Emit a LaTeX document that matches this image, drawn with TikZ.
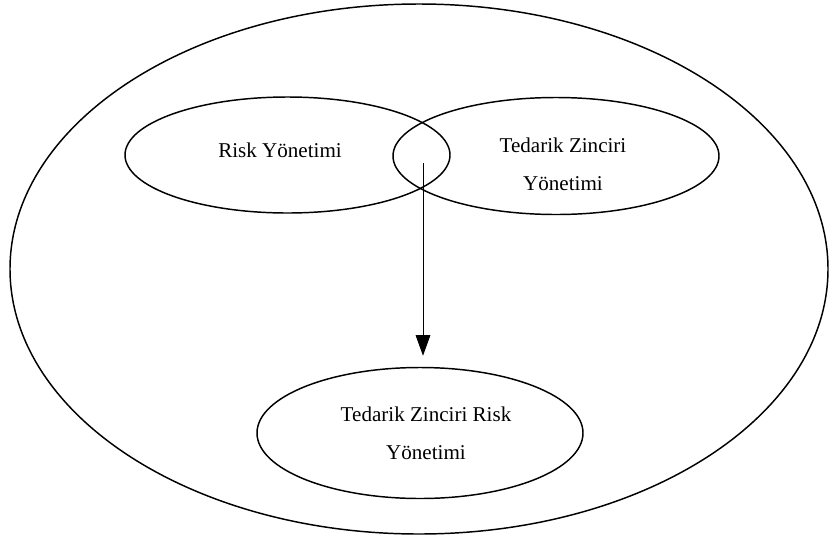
\documentclass[tikz,border=0pt]{standalone}
\usepackage{fontspec}
\setmainfont{Liberation Serif}
\usetikzlibrary{shapes.geometric, arrows.meta}

\begin{document}
\begin{tikzpicture}[x=0.75pt, y=-0.75pt,
  oval/.style={draw, ellipse, line width=1.1pt, inner sep=0pt},
  txt/.style={align=center, font=\fontsize{15.8}{28.5}\selectfont},
  arr/.style={-{Triangle[length=15.5pt, width=11pt]}, line width=0.75pt}]
  \useasboundingbox (0,0) rectangle (829,540);
  \node[oval, minimum width=613.5pt, minimum height=397.5pt] (outer) at (419,269) {};
  \node[oval, minimum width=243.75pt, minimum height=87pt] (risk) at (287.5,155) {};
  \node[oval, minimum width=244.5pt, minimum height=87.75pt] (tzy) at (556,156) {};
  \node[oval, minimum width=244.5pt, minimum height=98.25pt] (tzry) at (420,433) {};
  \node[txt] (riskTxt) at ([shift={(-7.5,-5)}]risk) {Risk Yönetimi};
  \node[txt] (tzyTxt) at ([shift={(7,8.5)}]tzy) {Tedarik Zinciri\\Yönetimi};
  \node[txt] (tzryTxt) at ([shift={(6,0)}]tzry) {Tedarik Zinciri Risk\\Yönetimi};
  \coordinate (lens) at (423,163);
  \draw[arr, shorten >=8.25pt] (lens) -- (lens |- tzry.north);
\end{tikzpicture}
\end{document}
